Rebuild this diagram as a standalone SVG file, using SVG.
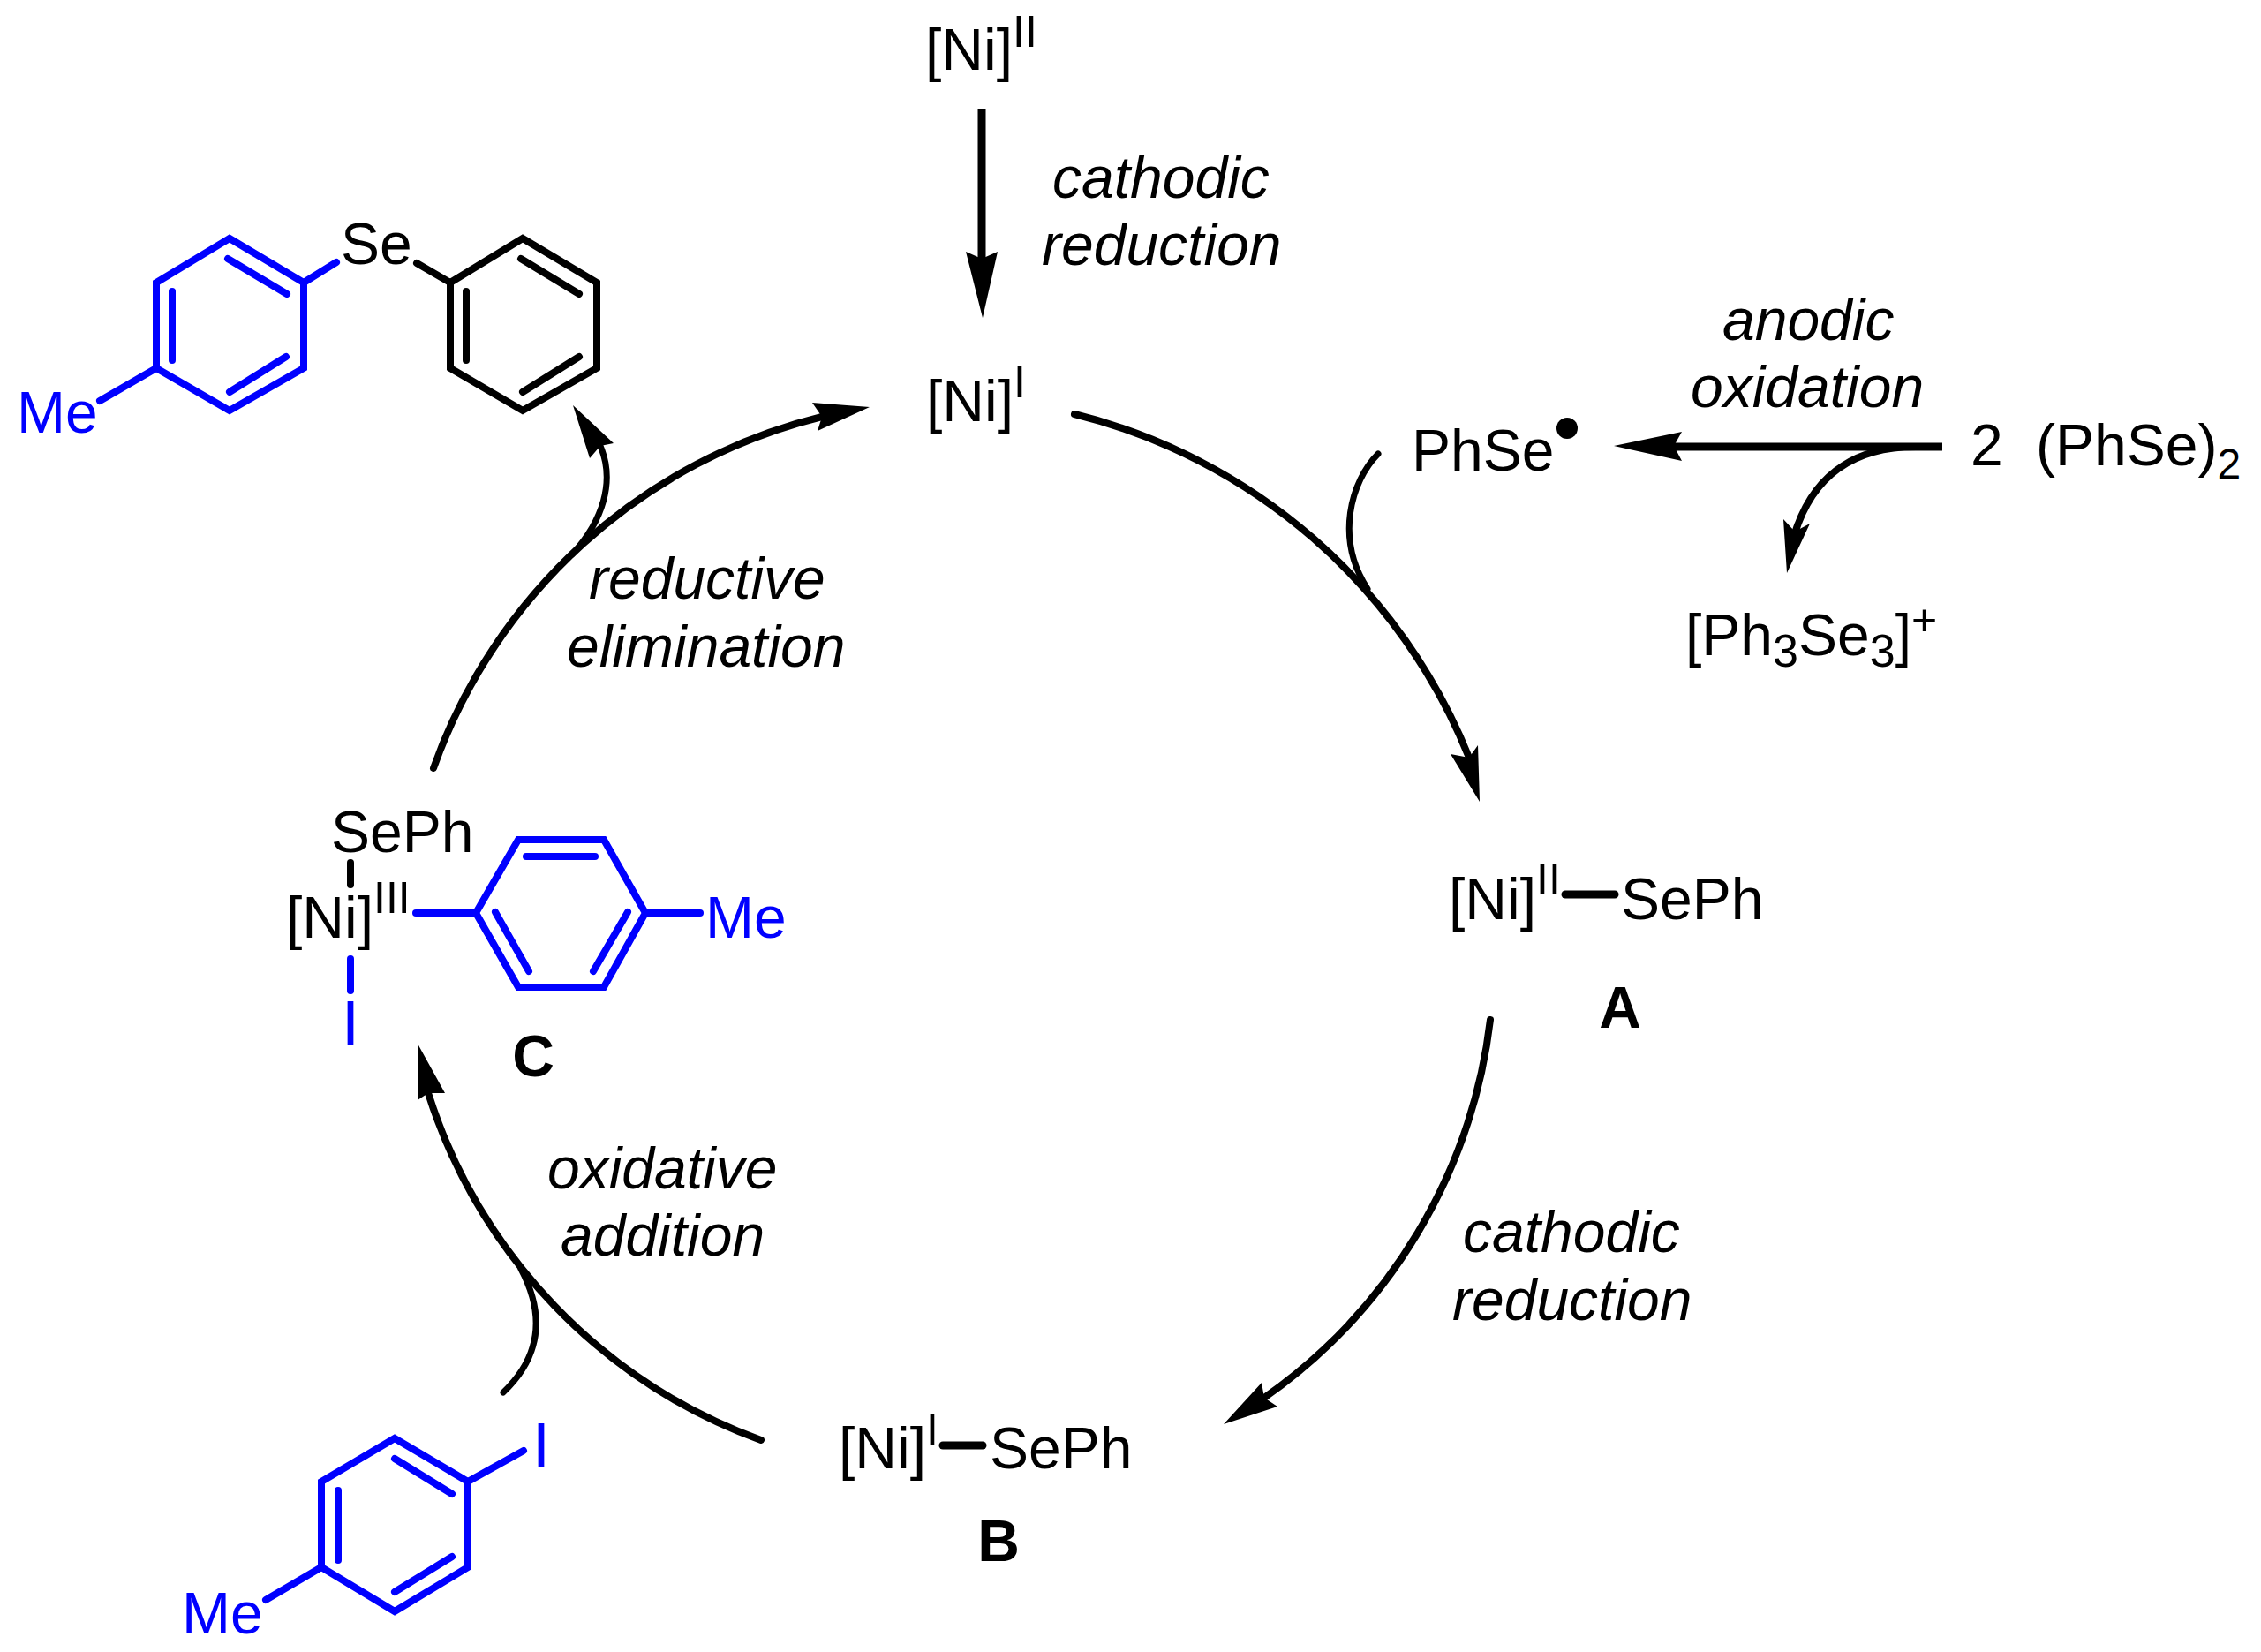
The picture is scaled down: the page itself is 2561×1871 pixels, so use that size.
<svg xmlns="http://www.w3.org/2000/svg" width="2561" height="1871" viewBox="0 0 2561 1871">
<style>
text{font-family:"Liberation Sans",Arial,sans-serif;font-size:66px;fill:#000}
.blue{fill:#0000ff}
.it{font-style:italic}
.b{font-weight:bold;text-anchor:middle}
.sup{font-size:50px}
.sub{font-size:48px}
.sub3{font-size:52px}
.big{font-size:72px;text-anchor:middle}
.bk,.bl{fill:none;stroke-width:8;stroke-linecap:round;stroke-linejoin:miter}
.bk{stroke:#000}
.bl{stroke:#0000ff}
.c{fill:none;stroke:#000;stroke-width:8;stroke-linecap:round}
.t{stroke-width:7}
.h{fill:#000;stroke:none}
rect{fill:#fff}
</style>
<rect x="0" y="0" width="2561" height="1871"/>
<g id="connectors">
<path class="c" style="stroke-width:9;stroke-linecap:butt" d="M1112,123V295"/>
<polygon class="h" points="1113,360 1094,285 1112,293 1130,285"/>
<path class="c" d="M1217,469A650,650 0 0 1 1664,858"/>
<polygon class="h" points="1676,908 1643,854 1664,858 1674,844"/>
<path class="c t" d="M1561,514C1530,545 1512,610 1549,667"/>
<path class="c" d="M1688,1155A610,610 0 0 1 1432,1583"/>
<polygon class="h" points="1386,1613 1429,1566 1432,1583 1447,1593"/>
<path class="c" d="M862,1631A616,616 0 0 1 485,1238"/>
<polygon class="h" points="473,1182 473,1246 485,1238 504,1238"/>
<path class="c t" d="M570,1577C612,1537 618,1490 590,1437"/>
<path class="c" d="M491,870A625,625 0 0 1 931,472"/>
<polygon class="h" points="985,461 920,456 931,472 926,488"/>
<path class="c t" d="M648,628C683,590 697,545 680,505"/>
<polygon class="h" points="649,459 668,519 680,505 695,502"/>
<path class="c" style="stroke-width:9;stroke-linecap:butt" d="M2200,506H1893"/>
<polygon class="h" points="1828,505 1905,489 1896,505 1905,522"/>
<path class="c" style="stroke-linecap:butt" d="M2170,506C2110,506 2056,530 2033,604"/>
<polygon class="h" points="2024,649 2020,588 2033,602 2050,593"/>
</g>
<g id="ni2-top"><text x="1048" y="79">[Ni]<tspan class="sup" dy="-26">II</tspan></text></g>
<g id="ni1-top"><text x="1049" y="477">[Ni]<tspan class="sup" dy="-27">I</tspan></text></g>
<g id="label-cathodic-1"><text class="it" x="1192" y="224">cathodic</text><text class="it" x="1180" y="300">reduction</text></g>
<g id="label-anodic"><text class="it" x="1951" y="385">anodic</text><text class="it" x="1915" y="461">oxidation</text></g>
<g id="label-cathodic-2"><text class="it" x="1657" y="1418">cathodic</text><text class="it" x="1645" y="1495">reduction</text></g>
<g id="label-reductive"><text class="it" x="667" y="678">reductive</text><text class="it" x="642" y="755">elimination</text></g>
<g id="label-oxidative"><text class="it" x="620" y="1346">oxidative</text><text class="it" x="635" y="1422">addition</text></g>
<g id="phse-radical"><text x="1599" y="533">PhSe</text><circle cx="1775" cy="485" r="12" fill="#000"/></g>
<g id="diselenide"><text x="2232" y="527">2</text><text x="2306" y="527">(PhSe)<tspan class="sub" dy="15">2</tspan></text></g>
<g id="ph3se3"><text x="1909" y="742">[Ph<tspan class="sub3" dy="13">3</tspan><tspan dy="-13">Se</tspan><tspan class="sub3" dy="13">3</tspan><tspan dy="-13">]</tspan><tspan class="sup" dy="-23">+</tspan></text></g>
<g id="A"><text x="1641" y="1041">[Ni]<tspan class="sup" dy="-28">II</tspan></text><line class="bk" style="stroke-width:9" x1="1773" y1="1013" x2="1829" y2="1013"/><text x="1836" y="1041">SePh</text><text class="b" x="1835" y="1164">A</text></g>
<g id="B"><text x="950" y="1663">[Ni]<tspan class="sup" dy="-26">I</tspan></text><line class="bk" style="stroke-width:9" x1="1068" y1="1637" x2="1113" y2="1637"/><text x="1121" y="1663">SePh</text><text class="b" x="1131" y="1768">B</text></g>
<g id="C">
<text x="375" y="965">SePh</text>
<line class="bk" x1="397" y1="977" x2="397" y2="1002"/>
<text x="324" y="1062">[Ni]<tspan class="sup" dy="-28">III</tspan></text>
<line class="bl" x1="471" y1="1034" x2="539" y2="1034"/>
<polygon class="bl" points="539,1034 587,951 684,951 731,1034 684,1118 587,1118"/>
<line class="bl" x1="596" y1="970" x2="674" y2="970"/>
<line class="bl" x1="561" y1="1033" x2="599" y2="1100"/>
<line class="bl" x1="711" y1="1033" x2="672" y2="1100"/>
<line class="bl" x1="731" y1="1034" x2="793" y2="1034"/>
<text class="blue" x="799" y="1062">Me</text>
<line class="bl" x1="397" y1="1086" x2="397" y2="1122"/>
<text class="blue big" x="397" y="1184">I</text>
<text class="b" x="604" y="1219">C</text>
</g>
<g id="product">
<polygon class="bl" points="260,270 344,320 344,417 260,465 177,417 177,320"/>
<line class="bl" x1="258" y1="293" x2="325" y2="333"/>
<line class="bl" x1="195" y1="330" x2="195" y2="408"/>
<line class="bl" x1="324" y1="404" x2="260" y2="444"/>
<line class="bl" x1="177" y1="417" x2="113" y2="454"/>
<line class="bl" x1="344" y1="320" x2="381" y2="297"/>
<text class="blue" x="19" y="490">Me</text>
<text x="386" y="299">Se</text>
<line class="bk" x1="472" y1="298" x2="510" y2="320"/>
<polygon class="bk" points="510,320 592,270 676,320 676,417 592,465 510,417"/>
<line class="bk" x1="590" y1="293" x2="656" y2="333"/>
<line class="bk" x1="528" y1="330" x2="528" y2="408"/>
<line class="bk" x1="656" y1="404" x2="592" y2="444"/>
</g>
<g id="iodotoluene">
<polygon class="bl" points="447,1629 530,1678 530,1775 447,1825 364,1775 364,1678"/>
<line class="bl" x1="447" y1="1652" x2="512" y2="1692"/>
<line class="bl" x1="383" y1="1688" x2="383" y2="1767"/>
<line class="bl" x1="512" y1="1763" x2="447" y2="1803"/>
<line class="bl" x1="530" y1="1678" x2="593" y2="1643"/>
<line class="bl" x1="364" y1="1775" x2="301" y2="1812"/>
<text class="blue big" x="613" y="1662">I</text>
<text class="blue" x="206" y="1850">Me</text>
</g>
</svg>
